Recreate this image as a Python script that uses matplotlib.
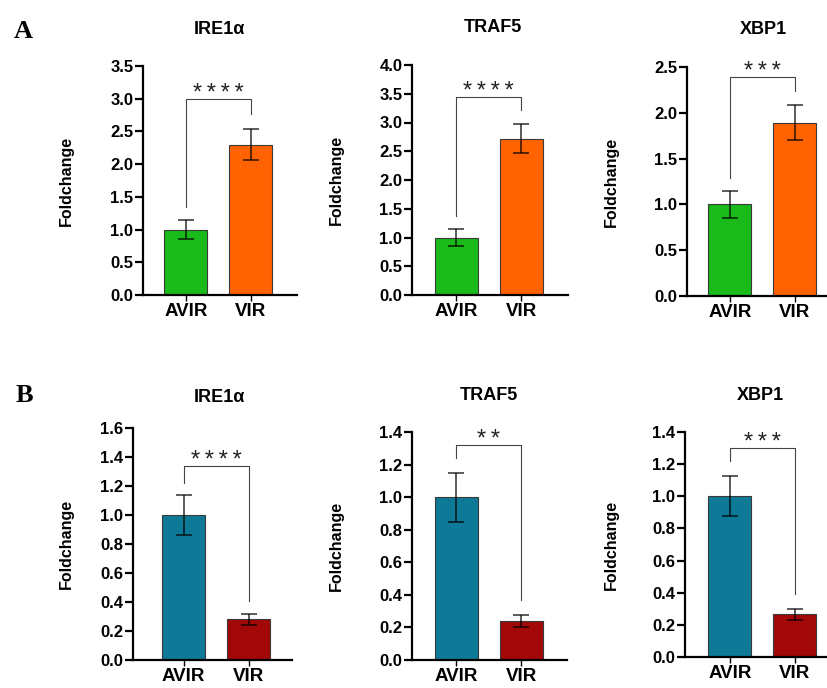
import matplotlib
matplotlib.use("Agg")
import matplotlib.pyplot as plt
import matplotlib.transforms as mtransforms
import numpy as np

plt.rcParams['font.family'] = ['Liberation Sans', 'DejaVu Sans']

W, H = 827, 688

groups = ['AVIR', 'VIR']
genes = ['IRE1α', 'TRAF5', 'XBP1']

# Panel A
a_means = [[1.0, 2.30], [1.0, 2.72], [1.0, 1.89]]
a_errs = [[0.15, 0.24], [0.14, 0.25], [0.15, 0.19]]
a_ytop = [3.5, 4.0, 2.5]
a_ystep = [0.5, 0.5, 0.5]
a_bracket = [[3.0, 1.35, 2.76], [3.45, 1.37, 3.22], [2.39, 1.29, 2.24]]  # top, left end, right end
a_stars = ['****', '****', '***']
a_colors = ['#19BA19', '#FF6200']

# Panel B
b_means = [[1.0, 0.28], [1.0, 0.24], [1.0, 0.265]]
b_errs = [[0.14, 0.04], [0.15, 0.035], [0.125, 0.035]]
b_ytop = [1.6, 1.4, 1.4]
b_ystep = [0.2, 0.2, 0.2]
b_bracket = [[1.34, 1.22, 0.41], [1.32, 1.24, 0.37], [1.30, 1.22, 0.39]]
b_stars = ['****', '**', '***']
b_colors = ['#0E7A97', '#A30808']

# layout in pixels: axis left, axis bottom, axis top, xlim left, xlim right, ylabel x, title x, title y
layout_a = [(143, 295, 66, -0.66, 1.71, 66, 219, 29),
            (412, 295, 65, -0.68, 1.72, 336, 493, 27),
            (687, 296, 67, -0.66, 1.71, 611, 763, 29)]
layout_b = [(133, 660, 428, -0.78, 1.67, 66, 219, 398),
            (412, 660, 432, -0.68, 1.71, 336, 489, 395),
            (685, 657, 432, -0.69, 1.71, 611, 760, 395)]
UNIT = 65.0  # px per bar slot

fig = plt.figure(figsize=(W / 100, H / 100), dpi=100)


def draw_panel(i, means, errs, ytop, ystep, bracket, stars, colors, lay):
    left, bottom, top, xl, xr, ylab_x, tx, ty = lay
    width = (xr - xl) * UNIT
    ax = fig.add_axes([left / W, 1 - bottom / H, width / W, (bottom - top) / H])
    x = np.arange(len(groups))
    ax.bar(x, means, width=0.66, color=colors, edgecolor='#3a3a3a', linewidth=0.8, zorder=2)
    ax.errorbar(x, means, yerr=errs, fmt='none', ecolor='black', alpha=0.75,
                elinewidth=1.2, capsize=5.5, capthick=1.2, zorder=3)
    ax.set_xlim(xl, xr)
    ax.set_ylim(0, ytop)
    ticks = np.arange(0, ytop + ystep / 2, ystep)
    ax.set_yticks(ticks)
    ax.set_yticklabels([f'{t:.1f}' for t in ticks], fontsize=12, fontweight='bold')
    ax.set_xticks(x)
    ax.set_xticklabels(groups, fontsize=13.5, fontweight='semibold')
    for s in ['top', 'right']:
        ax.spines[s].set_visible(False)
    for s in ['left', 'bottom']:
        ax.spines[s].set_linewidth(1.6)
    ax.tick_params(axis='y', length=5.5, width=1.6, pad=1.5)
    ax.tick_params(axis='x', length=4, width=1.0, pad=2)

    # significance bracket
    btop, bl, br = bracket
    ax.plot([x[0], x[0], x[1], x[1]], [bl, btop, btop, br], color='#444444', lw=0.8,
            zorder=4, clip_on=False)
    ax.annotate('\u2009'.join(stars), xy=(0.5, btop), xytext=(0, -0.7), textcoords='offset points',
                ha='center', va='baseline', fontsize=17, color='#222222')

    ax.set_ylabel('Foldchange', fontsize=11.5, fontweight='bold', va='center')
    ax.yaxis.set_label_coords((ylab_x - left) / width, 0.5)

    trans = mtransforms.blended_transform_factory(ax.transData, ax.transAxes)
    ax.text(0.5 + (tx - (left - xl * UNIT) - 0.5 * UNIT) / UNIT, 1 + (top - ty) / (bottom - top),
            genes[i], transform=trans, ha='center', va='center', fontsize=13, fontweight='bold')
    return ax


for i in range(3):
    draw_panel(i, a_means[i], a_errs[i], a_ytop[i], a_ystep[i], a_bracket[i], a_stars[i],
               a_colors, layout_a[i])
    draw_panel(i, b_means[i], b_errs[i], b_ytop[i], b_ystep[i], b_bracket[i], b_stars[i],
               b_colors, layout_b[i])

fig.text(23 / W, 1 - 32 / H, 'A', family='Liberation Serif', fontweight='bold', fontsize=19,
         ha='center', va='center')
fig.text(24 / W, 1 - 395 / H, 'B', family='Liberation Serif', fontweight='bold', fontsize=19,
         ha='center', va='center')

fig.savefig('out.png', dpi=100)
